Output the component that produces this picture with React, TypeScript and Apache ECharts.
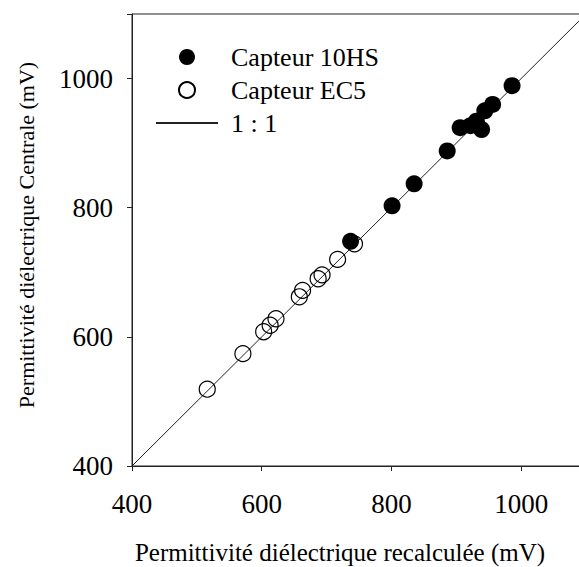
import React, { useEffect, useRef } from "react";
import * as echarts from "echarts";

const xTitle = "Permittivité diélectrique recalculée (mV)";
const yTitle = "Permittivité diélectrique Centrale (mV)";
const seriesNames = ["Capteur 10HS", "Capteur EC5", "1 : 1"];

const hsPoints: [number, number][] = [
  [737, 748], [801, 803], [835, 837], [886, 888], [906, 924], [922, 927],
  [931, 934], [939, 921], [944, 950], [956, 960], [986, 989],
];
const ec5Points: [number, number][] = [
  [516, 519], [571, 574], [603, 608], [613, 618], [622, 628], [658, 662],
  [663, 672], [687, 690], [693, 696], [717, 720], [743, 744],
];
const oneToOne: [number, number][] = [[400, 400], [1100, 1100]];
const axisMin = 400;
const axisMax = 1100;
const axisStep = 200;

const FONT = "Liberation Serif";

export default function App() {
  const ref = useRef<HTMLDivElement>(null);
  useEffect(() => {
    if (!ref.current) return;
    const chart = echarts.init(ref.current, undefined, { renderer: "svg" });
    const axisCommon = {
      type: "value",
      min: axisMin,
      max: axisMax,
      interval: axisStep,
      splitLine: { show: false },
      axisLine: { show: true, lineStyle: { color: "#222", width: 1 } },
      axisTick: { show: true, inside: false, length: 5, lineStyle: { color: "#222", width: 1 } },
      axisLabel: {
        color: "#000",
        fontFamily: FONT,
        fontSize: 27,
        formatter: (v: number) => (v >= axisMax ? "" : String(v)),
      },
    };
    chart.setOption({
      animation: false,
      backgroundColor: "#fff",
      grid: {
        left: 132,
        top: 14,
        width: 454,
        height: 452,
        show: true,
        borderColor: "#222",
        borderWidth: 1,
        containLabel: false,
      },
      xAxis: { ...axisCommon, axisLabel: { ...axisCommon.axisLabel, margin: 24 } },
      yAxis: { ...axisCommon, axisLabel: { ...axisCommon.axisLabel, margin: 19 } },
      legend: {
        orient: "vertical",
        left: 155,
        top: 44,
        padding: 0,
        itemGap: 7,
        itemWidth: 62,
        itemHeight: 16,
        data: [
          { name: seriesNames[0] },
          { name: seriesNames[1] },
          { name: seriesNames[2], itemStyle: { opacity: 0 } },
        ],
        textStyle: {
          fontFamily: FONT,
          fontSize: 26,
          color: "#000",
          padding: [0, 0, 0, 8],
        },
      },
      graphic: [
        {
          type: "text",
          x: 340,
          y: 552,
          style: {
            text: xTitle,
            fontFamily: FONT,
            fontSize: 25,
            fill: "#000",
            align: "center",
            verticalAlign: "middle",
          },
        },
        {
          type: "text",
          x: 26,
          y: 235,
          rotation: Math.PI / 2,
          style: {
            text: yTitle,
            fontFamily: FONT,
            fontSize: 22,
            fill: "#000",
            align: "center",
            verticalAlign: "middle",
          },
        },
      ],
      series: [
        {
          name: seriesNames[2],
          type: "line",
          data: oneToOne,
          symbol: "none",
          showSymbol: false,
          lineStyle: { color: "#222", width: 1 },
          itemStyle: { color: "#222" },
          z: 1,
        },
        {
          name: seriesNames[0],
          type: "scatter",
          data: hsPoints,
          symbol: "circle",
          symbolSize: 17,
          symbolKeepAspect: true,
          itemStyle: { color: "#000", opacity: 1 },
          z: 2,
        },
        {
          name: seriesNames[1],
          type: "scatter",
          data: ec5Points,
          symbol: "circle",
          symbolSize: 16,
          symbolKeepAspect: true,
          itemStyle: { color: "rgba(255,255,255,0)", borderColor: "#000", borderWidth: 1.2, opacity: 1 },
          z: 3,
        },
      ],
    });
    return () => chart.dispose();
  }, []);
  return (
    <div style={{ width: 579, height: 567, position: "absolute", left: 0, top: 0, overflow: "hidden", background: "#fff" }}>
      <div ref={ref} style={{ width: 600, height: 567 }} />
    </div>
  );
}
